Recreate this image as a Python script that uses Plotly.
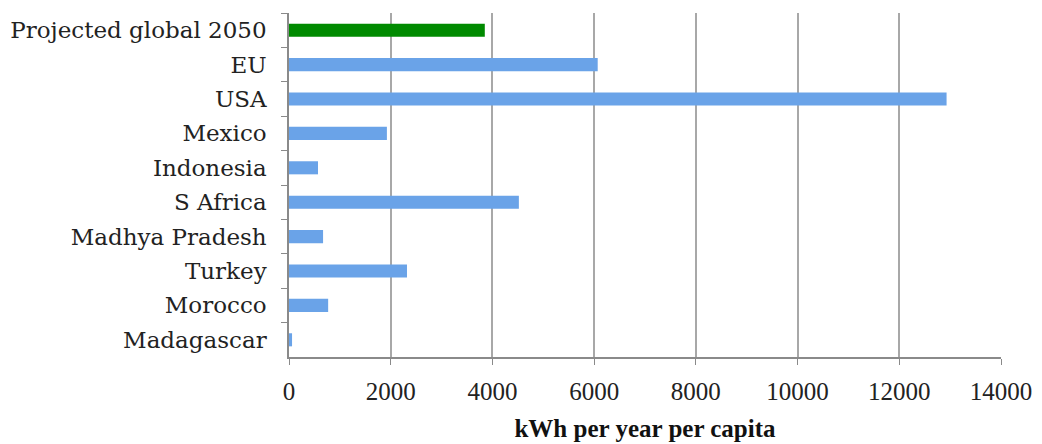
import plotly.graph_objects as go

categories = ["Projected global 2050", "EU", "USA", "Mexico", "Indonesia",
              "S Africa", "Madhya Pradesh", "Turkey", "Morocco", "Madagascar"]
values = [3850, 6070, 12930, 1925, 570, 4520, 670, 2320, 770, 60]
colors = ["#008a00"] + ["#6aa3e8"] * 9
x_ticks = [0, 2000, 4000, 6000, 8000, 10000, 12000, 14000]

fig = go.Figure(go.Bar(
    x=values, y=categories, orientation="h",
    marker=dict(color=colors, line=dict(width=0)),
))

fig.update_layout(
    width=1034, height=436,
    margin=dict(l=281, r=41, t=5, b=87),
    plot_bgcolor="white", paper_bgcolor="white",
    bargap=0.62,
    showlegend=False,
    font=dict(family="DejaVu Serif, Liberation Serif, serif", size=23, color="#222"),
)
fig.update_xaxes(
    range=[0, 14000], tickvals=x_ticks, ticktext=[str(t) for t in x_ticks],
    showgrid=True, gridcolor="#a8a8a8", gridwidth=1.5,
    showline=True, linecolor="#8a8a8a", linewidth=1.5,
    ticks="outside", ticklen=6, tickcolor="#8a8a8a",
    zeroline=False, automargin=False,
    tickfont=dict(family="Liberation Serif, serif", size=25),
    ticklabelstandoff=5,
    title=dict(text="<b>kWh per year per capita</b>",
               font=dict(family="Liberation Serif, serif", size=25, color="#111"),
               standoff=16),
)
fig.update_yaxes(
    autorange="reversed",
    showline=True, linecolor="#8a8a8a", linewidth=1.5,
    ticks="outside", ticklen=6, tickcolor="#8a8a8a", tickson="boundaries",
    showgrid=False, automargin=False,
    ticklabelstandoff=16,
    tickfont=dict(size=23),
)

fig.write_html("out.html")
